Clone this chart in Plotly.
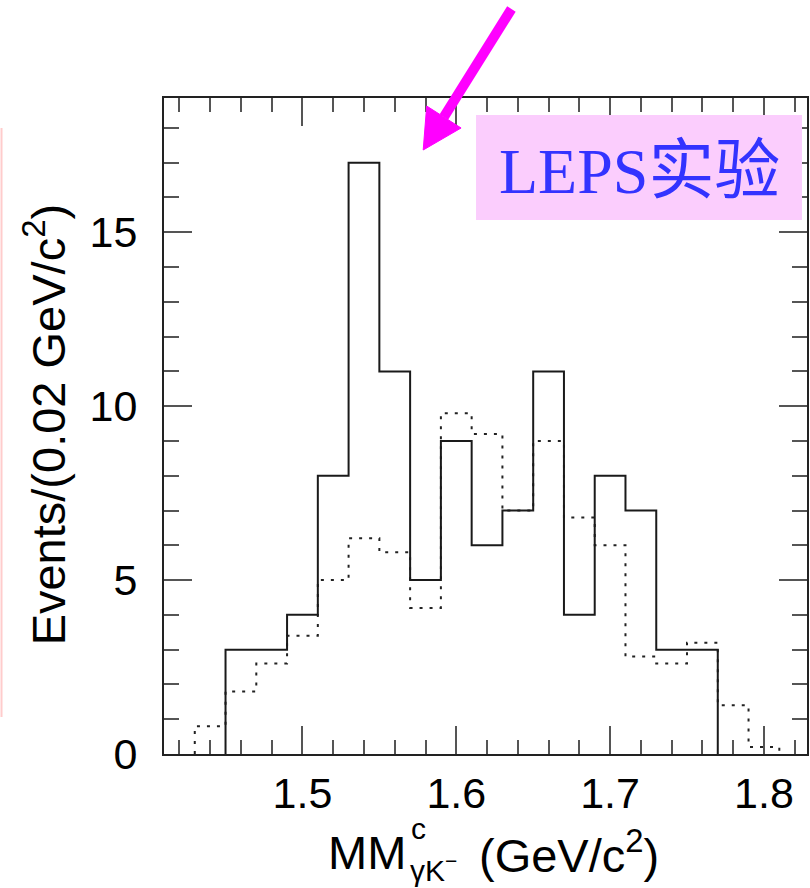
import plotly.graph_objects as go

# Missing-mass spectrum, 0.02 GeV/c^2 bins (lower bin edges and counts)
signal_lo = [1.45, 1.47, 1.49, 1.51, 1.53, 1.55, 1.57, 1.59,
             1.61, 1.63, 1.65, 1.67, 1.69, 1.71, 1.73, 1.75]
signal_counts = [3, 3, 4, 8, 17, 11, 5, 9, 6, 7, 11, 4, 8, 7, 3, 3]

bkg_lo = [1.43, 1.45, 1.47, 1.49, 1.51, 1.53, 1.55, 1.57, 1.59, 1.61,
          1.63, 1.65, 1.67, 1.69, 1.71, 1.73, 1.75, 1.77, 1.79]
bkg_counts = [0.8, 1.8, 2.6, 3.4, 5.0, 6.2, 5.8, 4.2, 9.8, 9.2,
              7.0, 9.0, 6.8, 6.0, 2.8, 2.6, 3.2, 1.4, 0.2]

bin_width = 0.02
x_ticks = [1.5, 1.6, 1.7, 1.8]
y_ticks = [0, 5, 10, 15]

# figure geometry (pixels)
W, H = 810, 888
ML, MR, MT, MB = 164, 1, 98, 134
PW, PH = W - ML - MR, H - MT - MB


def px(x):
    return (x - ML) / PW


def py(y):
    return (H - MB - y) / PH


def step_outline(lo, counts, width):
    xs = [lo[0]] + list(lo) + [lo[-1] + width]
    ys = [0] + list(counts) + [0]
    return xs, ys


fig = go.Figure()

bx, by = step_outline(bkg_lo, bkg_counts, bin_width)
fig.add_trace(go.Scatter(x=bx, y=by, mode="lines", line_shape="hv",
                         line=dict(color="#222222", width=2, dash="3px,7px"),
                         showlegend=False, hoverinfo="skip"))

sx, sy = step_outline(signal_lo, signal_counts, bin_width)
fig.add_trace(go.Scatter(x=sx, y=sy, mode="lines", line_shape="hv",
                         line=dict(color="#1a1a1a", width=2),
                         showlegend=False, hoverinfo="skip"))

axis_common = dict(
    showline=True, linecolor="#222222", linewidth=2, mirror="allticks",
    ticks="inside", tickcolor="#555555", tickwidth=1.5, ticklen=28,
    showgrid=False, zeroline=False,
    tickfont=dict(family="Liberation Sans, Arial", size=43, color="black"),
)

fig.update_xaxes(range=[1.41, 1.828], tickvals=x_ticks,
                 ticktext=[f"{v:.1f}" for v in x_ticks],
                 ticklabelstandoff=0,
                 minor=dict(ticks="inside", ticklen=14, tickcolor="#555555",
                            tickwidth=1.5, tick0=1.5, dtick=0.02),
                 **axis_common)
fig.update_yaxes(range=[0, 18.86], tickvals=y_ticks,
                 ticklabelstandoff=16,
                 minor=dict(ticks="inside", ticklen=15, tickcolor="#555555",
                            tickwidth=1.5, tick0=0, dtick=1),
                 **axis_common)

title_font = dict(family="Liberation Sans, Arial", size=47, color="black")
small_font = dict(family="Liberation Sans, Arial", size=30, color="black")

annotations = [
    # y-axis title
    dict(text="Events/(0.02 GeV/c<sup>2</sup>)", textangle=-90,
         x=px(45), y=py(424), xanchor="center", yanchor="middle",
         font=title_font),
    # x-axis title, assembled so the super/subscripts stack
    dict(text="MM", x=px(409), y=py(852), xanchor="right", yanchor="middle",
         font=title_font),
    dict(text="c", x=px(410), y=py(828), xanchor="left", yanchor="middle",
         font=small_font),
    dict(text="γK<sup>−</sup>", x=px(409), y=py(868), xanchor="left",
         yanchor="middle", font=small_font),
    dict(text="(GeV/c<sup>2</sup>)", x=px(478), y=py(852), xanchor="left",
         yanchor="middle", font=title_font),
    # label in the pink box
    dict(text="LEPS<span style='font-size:66px'>实验</span>",
         x=px(641), y=py(170), xanchor="center", yanchor="middle",
         font=dict(family="Liberation Serif, Noto Sans CJK SC", size=64,
                   color="#3333ff")),
]
for a in annotations:
    a.update(xref="paper", yref="paper", showarrow=False)

# arrow pointing at the peak
tip = (424, 150)
shaft_start = (512.5, 9)
head_a = (427.5, 106)
head_b = (462, 128)
neck = ((head_a[0] + head_b[0]) / 2, (head_a[1] + head_b[1]) / 2)

shapes = [
    dict(type="rect", xref="paper", yref="paper",
         x0=px(477), x1=px(804), y0=py(115), y1=py(220),
         fillcolor="#fbcdfd", line=dict(width=0), layer="above"),
    dict(type="line", xref="paper", yref="paper",
         x0=px(shaft_start[0]), y0=py(shaft_start[1]),
         x1=px(neck[0]), y1=py(neck[1]),
         line=dict(color="#ff00ff", width=10), layer="above"),
    dict(type="path", xref="paper", yref="paper",
         path=(f"M {px(tip[0])},{py(tip[1])} L {px(head_a[0])},{py(head_a[1])} "
               f"L {px(head_b[0])},{py(head_b[1])} Z"),
         fillcolor="#ff00ff", line=dict(color="#ff00ff", width=1),
         layer="above"),
    # thin pink rule along the left edge
    dict(type="line", xref="paper", yref="paper",
         x0=px(1), x1=px(1), y0=py(128), y1=py(717),
         line=dict(color="#ffcccc", width=2), layer="above"),
]

fig.update_layout(
    width=W, height=H,
    margin=dict(l=ML, r=MR, t=MT, b=MB),
    paper_bgcolor="white", plot_bgcolor="white",
    annotations=annotations, shapes=shapes,
    showlegend=False,
)

fig.write_html("out.html")
